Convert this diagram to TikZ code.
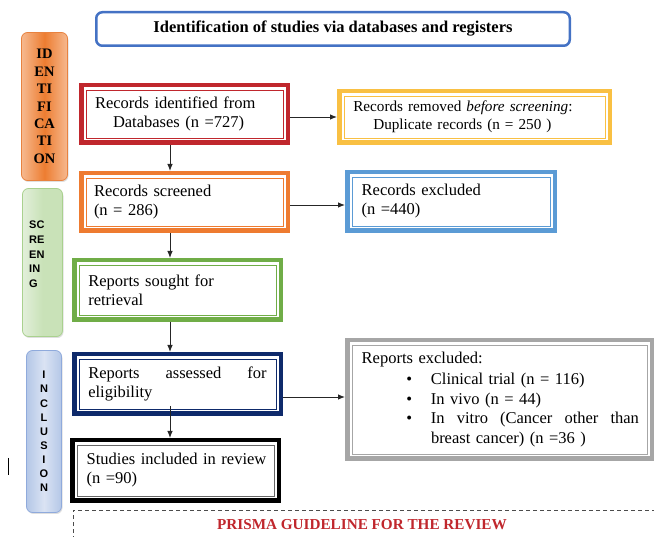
\documentclass[tikz,border=0pt]{standalone}
\usepackage{fontspec}
\setmainfont{Liberation Serif}
\setsansfont{Liberation Sans}
\usetikzlibrary{arrows.meta,shadows}
\definecolor{cTitle}{HTML}{4472C4}
\definecolor{cOr}{HTML}{ED7D31}
\definecolor{cOrL}{HTML}{F6B98F}
\definecolor{cOrB}{HTML}{E8823F}
\definecolor{cGr}{HTML}{C9E2B8}
\definecolor{cGrL}{HTML}{E2EFDA}
\definecolor{cGrB}{HTML}{A9D18E}
\definecolor{cBl}{HTML}{B4C7E7}
\definecolor{cBlL}{HTML}{DAE3F3}
\definecolor{cBlB}{HTML}{8FAADC}
\definecolor{cRed}{HTML}{C0272D}
\definecolor{cYel}{HTML}{F9C043}
\definecolor{cOrBox}{HTML}{EE7B30}
\definecolor{cBlueBox}{HTML}{5B9BD5}
\definecolor{cGreenBox}{HTML}{70AD47}
\definecolor{cNavy}{HTML}{0E2A6B}
\definecolor{cGray}{HTML}{A6A6A6}
\definecolor{cInGray}{HTML}{666666}
\begin{document}
\begin{tikzpicture}[x=1pt,y=1pt,
  pbox/.style={draw=#1, line width=4.5pt, fill=white, inner sep=0pt, align=left,
    font=\fontsize{16.5}{19}\selectfont},
  side/.style={rounded corners=6pt, draw=#1, line width=0.8pt, inner sep=0pt,
    drop shadow={shadow xshift=1pt, shadow yshift=-1.5pt, opacity=0.25}},
  arr/.style={-{Latex[length=7pt,width=5.5pt]}, line width=0.9pt, draw=black!85},
]
\useasboundingbox (0,0) rectangle (654,-537);

% title
\node[draw=cTitle, line width=2.5pt, rounded corners=6pt, minimum width=473.5,
  minimum height=33.5, inner sep=0pt, font=\bfseries\fontsize{16.5}{19}\selectfont]
  (title) at (333,-29) {Identification of studies via databases and registers};

% side bars
\node[side=cOrB, left color=cOrL, right color=cOrL, middle color=cOr,
  minimum width=46, minimum height=148, align=center,
  font=\bfseries\fontsize{14.5}{17.4}\selectfont]
  (ident) at (44.5,-106.5) {ID\\EN\\TI\\FI\\CA\\TI\\ON};
\node[side=cGrB, left color=cGrL, right color=cGr, middle color=cGr,
  minimum width=40, minimum height=148] (screen) at (42.5,-262.5) {};
\node[anchor=west, inner sep=0pt, align=left,
  font=\sffamily\bfseries\fontsize{11}{14.6}\selectfont]
  (screent) at (29,-254.3) {SC\\RE\\EN\\IN\\G};
\node[side=cBlB, left color=cBl, right color=cBl, middle color=cBlL,
  minimum width=35, minimum height=162, align=center,
  font=\sffamily\bfseries\fontsize{11}{14.1}\selectfont]
  (incl) at (44,-431.5) {I\\N\\C\\L\\U\\S\\I\\O\\N};

% boxes
\node[pbox=cRed, minimum width=206.5, minimum height=57.5, text width=179]
  (rid) at (184.5,-114) {Records identified from\\\hspace*{18pt}Databases (n =727)};
\node[pbox=cYel, minimum width=270.5, minimum height=51.5, text width=242.4,
  font=\fontsize{15.2}{18}\selectfont]
  (rem) at (474.5,-117) {Records removed \textit{before screening}:\\\hspace*{20pt}Duplicate records (n = 250 )};
\node[pbox=cOrBox, minimum width=206.5, minimum height=57.5, text width=181]
  (scr) at (184.5,-202) {Records screened\\(n = 286)};
\node[pbox=cBlueBox, minimum width=207.5, minimum height=58.5, text width=178.6]
  (exc) at (451,-201.5) {Records excluded\\(n =440)};
\node[pbox=cGreenBox, minimum width=206.5, minimum height=59.5, text width=178.4]
  (rsr) at (177.5,-290) {Reports sought for\\retrieval};
\node[pbox=cNavy, minimum width=206.5, minimum height=59.5, text width=178.4]
  (ra) at (177.5,-384) {\makebox[178.4pt][l]{Reports\hfill assessed\hfill for}\\eligibility};
\node[pbox=black, minimum width=206.5, minimum height=60.5, text width=177.6]
  (inc) at (175.5,-470.5) {\mbox{Studies included in review}\\(n =90)};
\node[pbox=cGray, minimum width=304.5, minimum height=118.5, text width=275.6,
  font=\fontsize{16.5}{19.6}\selectfont]
  (rex) at (499.5,-399.5) {Reports excluded:\\[1.5pt]
  \mbox{\hspace*{44.7pt}\textbullet\hspace*{18.8pt}Clinical trial (n = 116)}\\
  \mbox{\hspace*{44.7pt}\textbullet\hspace*{18.8pt}In vivo (n = 44)}\\
  \mbox{\hspace*{44.7pt}\textbullet\hspace*{18.8pt}\makebox[208pt][l]{In\hfill vitro\hfill (Cancer\hfill other\hfill than}}\\
  \mbox{\hspace*{69.3pt}breast cancer) (n =36 )}};

% inner lines of the double borders
\foreach \n/\c in {rid/cRed, rem/cYel, scr/cOrBox, exc/cBlueBox, rsr/cGreenBox,
  ra/cNavy, inc/cInGray, rex/cGray}{
  \draw[draw=\c, line width=0.9pt] ([shift={(7,-7)}]\n.north west)
    rectangle ([shift={(-7,7)}]\n.south east);
}

% connectors
\coordinate (ax) at (170,0);
\coordinate (y1) at (0,-205);
\coordinate (y2) at (0,-397);
\draw[arr] (rid.south -| ax) -- (scr.north -| ax);
\draw[arr] (scr.south -| ax) -- (rsr.north -| ax);
\draw[arr] (rsr.south -| ax) -- (ra.north -| ax);
\draw[arr] ([yshift=10pt]ra.south -| ax) -- (inc.north -| ax);
\draw[arr] (rid.east |- rem.west) -- (rem.west);
\draw[arr] (scr.east |- y1) -- (exc.west |- y1);
\draw[arr] (ra.east |- y2) -- (rex.west |- y2);

% stray mark
\draw[line width=0.8pt] (8,-458) -- (8,-475);

% dashed frame and caption
\draw[dash pattern=on 4pt off 3pt, line width=0.8pt, draw=black!70] (73,-540) |- (656,-510);
\node[inner sep=0pt, text=cRed, font=\bfseries\fontsize{15.2}{18}\selectfont]
  (prisma) at (362,-525) {PRISMA GUIDELINE FOR THE REVIEW};
\end{tikzpicture}
\end{document}
